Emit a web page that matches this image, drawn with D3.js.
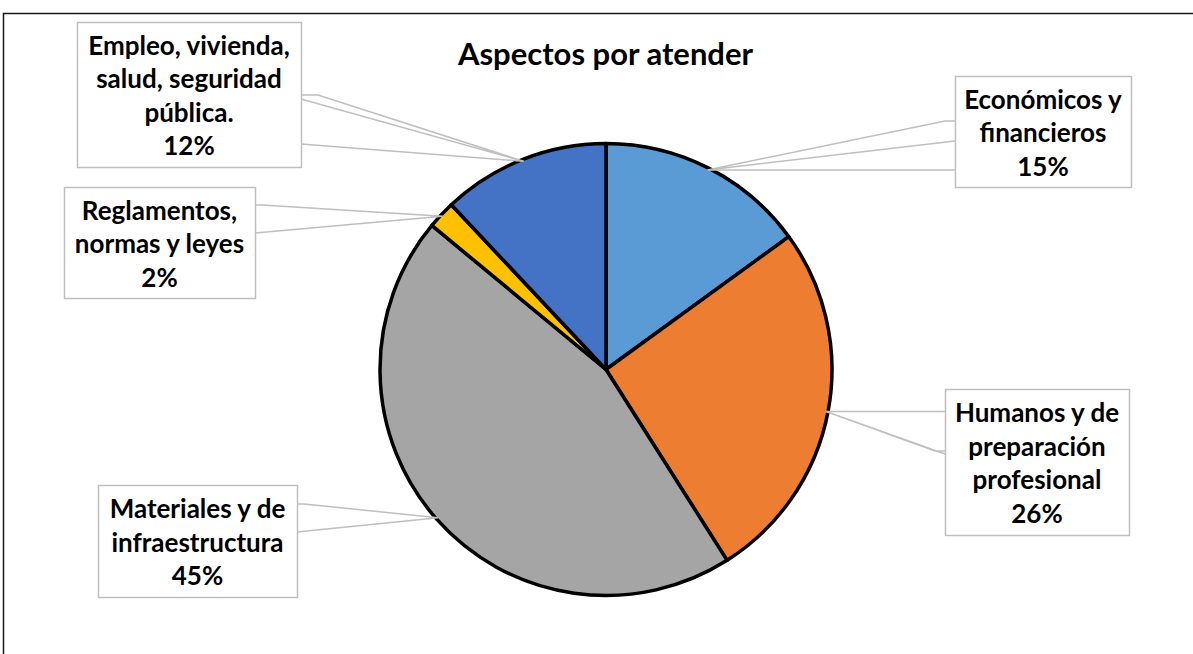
<!DOCTYPE html>
<html>
<head>
<meta charset="utf-8">
<script src="https://cdn.jsdelivr.net/npm/d3@7"></script>
<style>
  html, body { margin: 0; padding: 0; background: #fff; }
  svg { display: block; }
  text { font-family: Lato, "Noto Sans", sans-serif; font-weight: 700; fill: #000; }
</style>
</head>
<body>
<svg id="chart" width="1193" height="654"></svg>
<script>
// Survey results: aspects that still need attention (share of answers, %)
const categories = [
  "Económicos y financieros",
  "Humanos y de preparación profesional",
  "Materiales y de infraestructura",
  "Reglamentos, normas y leyes",
  "Empleo, vivienda, salud, seguridad pública."
];
const values = [15, 26, 45, 2, 12];
const labelLines = [
  ["Económicos y", "financieros"],
  ["Humanos y de", "preparación", "profesional"],
  ["Materiales y de", "infraestructura"],
  ["Reglamentos,", "normas y leyes"],
  ["Empleo, vivienda,", "salud, seguridad", "pública."]
];
const colors = ["#5B9BD5", "#ED7D31", "#A5A5A5", "#FFC000", "#4472C4"];
const title = "Aspectos por atender";

// Callout boxes and the corners their pointers leave from
const callouts = [
  { box: [955, 76, 176, 111],  wedge: [[955, 121], [945, 121]], wedge2: [955, 141], leader: [955, 168], horizLeader: true },
  { box: [945, 389, 184, 146], wedge: [[945, 451], [935, 451]], wedge2: [945, 454], leader: [945, 413], horizLeader: true },
  { box: [98, 485, 199, 112],  wedge: [[297, 504], [304, 504]], wedge2: [297, 532], leader: null },
  { box: [64, 187, 191, 111],  wedge: [[255, 205], [262, 205]], wedge2: [255, 233], leader: null },
  { box: [77, 22, 224, 145],   wedge: [[301, 95], [318, 95]],   wedge2: [301, 99],  leader: [301, 144] }
];

const svg = d3.select("#chart");
const W = 1193, H = 654;
const cx = 606, cy = 369.5, R = 226;

// outer frame (top and left edges are visible)
svg.append("path")
  .attr("d", `M3.5,${H} L3.5,13.5 L${W},13.5`)
  .attr("fill", "none").attr("stroke", "#1a1a1a").attr("stroke-width", 1.5);

// title
svg.append("text")
  .attr("x", 605.5).attr("y", 65)
  .attr("text-anchor", "middle")
  .style("font-size", "31px")
  .text(title);

const pie = d3.pie().sort(null).value(d => d)(values);
const arc = d3.arc().innerRadius(0).outerRadius(R);

const g = svg.append("g").attr("transform", `translate(${cx},${cy})`);
g.selectAll("path.slice")
  .data(pie)
  .join("path")
  .attr("class", "slice")
  .attr("d", arc)
  .attr("fill", (d, i) => colors[i])
  .attr("stroke", "#000")
  .attr("stroke-width", 3.5)
  .attr("stroke-linejoin", "round");

// tip point of each callout: middle of the slice on its outer edge
const tips = pie.map(d => {
  const a = (d.startAngle + d.endAngle) / 2;
  return [cx + (R - 2) * Math.sin(a), cy - (R - 2) * Math.cos(a)];
});

const line = d3.line();
const lg = svg.append("g")
  .attr("fill", "none").attr("stroke", "#BFBFBF").attr("stroke-width", 1.5);

callouts.forEach((c, i) => {
  const t = tips[i];
  lg.append("path").attr("d", line([...c.wedge, t, c.wedge2]));
  if (c.leader) {
    const p = c.horizLeader ? [c.leader[0], t[1]] : c.leader;
    lg.append("path").attr("d", line([t, p]));
  }
});

// label boxes with text
const fs = 26, lh = 33.5;
callouts.forEach((c, i) => {
  const [x, y, w, h] = c.box;
  const grp = svg.append("g");
  grp.append("rect")
    .attr("x", x + 0.5).attr("y", y + 0.5).attr("width", w).attr("height", h)
    .attr("fill", "#fff").attr("stroke", "#BFBFBF").attr("stroke-width", 1.5);
  const lines = [...labelLines[i], values[i] + "%"];
  const n = lines.length;
  const mx = x + w / 2, my = y + h / 2;
  grp.selectAll("text")
    .data(lines)
    .join("text")
    .attr("x", mx)
    .attr("y", (d, k) => my + (k - (n - 1) / 2) * lh + 10.5)
    .attr("text-anchor", "middle")
    .style("font-size", fs + "px")
    .text(d => d);
});
</script>
</body>
</html>
